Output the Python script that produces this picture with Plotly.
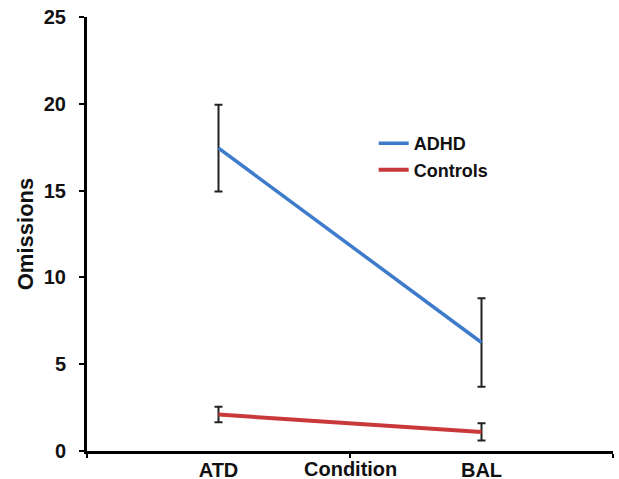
import plotly.graph_objects as go

conditions = ["ATD", "BAL"]
adhd_mean = [17.45, 6.25]
adhd_err = [2.5, 2.55]
controls_mean = [2.1, 1.1]
controls_err = [0.45, 0.5]
y_ticks = [0, 5, 10, 15, 20, 25]

font_family = "Liberation Sans, Arial, sans-serif"
txt = "#111111"

fig = go.Figure()
fig.add_trace(go.Scatter(
    x=conditions, y=adhd_mean, name="ADHD", mode="lines",
    line=dict(color="#3f7bcb", width=3.5),
    error_y=dict(type="data", array=adhd_err, visible=True, color="#222222", thickness=2, width=4),
))
fig.add_trace(go.Scatter(
    x=conditions, y=controls_mean, name="Controls", mode="lines",
    line=dict(color="#c9393c", width=4),
    error_y=dict(type="data", array=controls_err, visible=True, color="#222222", thickness=2, width=4),
))

fig.update_layout(
    width=619, height=479,
    margin=dict(l=87, r=6, t=17, b=28),
    paper_bgcolor="white", plot_bgcolor="white",
    font=dict(family=font_family, size=20, color=txt, weight="bold"),
    showlegend=True,
    legend=dict(
        x=0.545, y=0.751, xanchor="left", yanchor="top",
        bgcolor="rgba(0,0,0,0)", itemwidth=30,
        font=dict(family=font_family, size=18, color=txt, weight="bold"),
        tracegroupgap=0,
    ),
    xaxis=dict(
        type="category", range=[-0.5, 1.5], tickson="boundaries",
        showline=True, linecolor="black", linewidth=3,
        ticks="outside", ticklen=4, tickwidth=2, tickcolor="black",
        showgrid=False, zeroline=False, automargin=False,
        tickfont=dict(family=font_family, size=20, color=txt, weight="bold"),
        ticklabelstandoff=-1, ticklabeloverflow="allow",
    ),
    yaxis=dict(
        range=[0, 25], tickvals=y_ticks, automargin=False,
        showline=True, linecolor="black", linewidth=3,
        ticks="outside", ticklen=5, tickwidth=2, tickcolor="black",
        showgrid=False, zeroline=False,
        tickfont=dict(family=font_family, size=20, color=txt, weight="bold"),
        ticklabelstandoff=9, ticklabeloverflow="allow",
        title=dict(text="Omissions", standoff=5,
                   font=dict(family=font_family, size=22, color=txt, weight="bold")),
    ),
)

fig.add_annotation(
    x=0.5, y=0, xref="paper", yref="paper", yshift=-18,
    text="Condition", showarrow=False, xanchor="center", yanchor="middle",
    font=dict(family=font_family, size=20, color=txt, weight="bold"),
)

fig.write_html(
    "out.html",
    config={"displayModeBar": False},
    post_script="document.body.style.margin='0';document.body.style.overflow='hidden';",
)
